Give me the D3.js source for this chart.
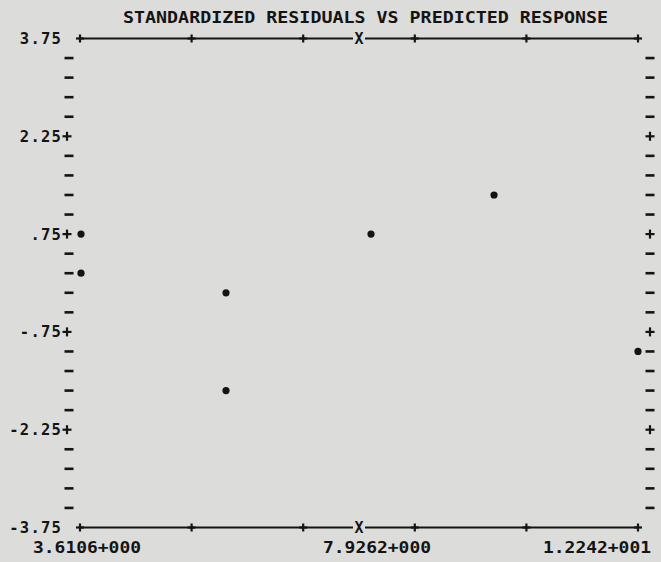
<!DOCTYPE html>
<html>
<head>
<meta charset="utf-8">
<script src="https://cdn.jsdelivr.net/npm/d3@7"></script>
<style>
  html, body { margin: 0; padding: 0; background: #dcdcda; }
  svg { display: block; }
  text { font-family: "DejaVu Sans Mono", "Liberation Mono", monospace; font-weight: bold; fill: #141414; }
</style>
</head>
<body>
<script>
// Predicted response (x) and standardized residual (y) for each observation
const predicted = [3.6106, 3.6106, 5.869, 5.869, 8.112, 10.015, 12.242];
const residuals = [0.75, 0.15, -0.15, -1.65, 0.75, 1.35, -1.05];

// Axis labels as printed by the plotting routine
const yTickValues = [3.75, 2.25, 0.75, -0.75, -2.25, -3.75];
const yTickLabels = ["3.75", "2.25", ".75", "-.75", "-2.25", "-3.75"];
const xTickValues = [3.6106, 7.9262, 12.242];
const xTickLabels = ["3.6106+000", "7.9262+000", "1.2242+001"];
const titleText = "STANDARDIZED RESIDUALS VS PREDICTED RESPONSE";

const W = 661, H = 562;
const ink = "#141414";
const paper = "#dcdcda";

const svg = d3.select("body").append("svg")
  .attr("width", W).attr("height", H);

svg.append("rect").attr("width", W).attr("height", H).attr("fill", paper);

const x = d3.scaleLinear().domain([3.6106, 12.242]).range([80, 638]);
const y = d3.scaleLinear().domain([-3.75, 3.75]).range([527.5, 38.5]);

// Printer rows: 25 steps of 0.3 between the limits
const rowValues = d3.range(26).map(k => 3.75 - 0.3 * k);
const labelled = v => yTickValues.some(t => Math.abs(t - v) < 1e-6);

const leftCol = 69, rightCol = 650;

function dash(g, cx, cy) {
  g.append("line")
    .attr("x1", cx - 4.5).attr("x2", cx + 4.5)
    .attr("y1", cy).attr("y2", cy)
    .attr("stroke", ink).attr("stroke-width", 2.6);
}
function plus(g, cx, cy, s = 4.5) {
  g.append("line")
    .attr("x1", cx - s).attr("x2", cx + s)
    .attr("y1", cy).attr("y2", cy)
    .attr("stroke", ink).attr("stroke-width", 2.2);
  g.append("line")
    .attr("x1", cx).attr("x2", cx)
    .attr("y1", cy - s).attr("y2", cy + s)
    .attr("stroke", ink).attr("stroke-width", 2.2);
}

const frame = svg.append("g");

// Title
svg.append("text")
  .attr("x", 123).attr("y", 23)
  .attr("font-size", 16.5)
  .attr("textLength", 485).attr("lengthAdjust", "spacingAndGlyphs")
  .text(titleText);

// Top and bottom axis lines with tick crosses and centre X
[y(3.75), y(-3.75)].forEach(yy => {
  frame.append("line")
    .attr("x1", x(3.6106)).attr("x2", x(12.242))
    .attr("y1", yy).attr("y2", yy)
    .attr("stroke", ink).attr("stroke-width", 1.9);
  const ticks = d3.range(6).map(i => 3.6106 + i * (12.242 - 3.6106) / 5);
  ticks.forEach(t => plus(frame, x(t), yy, 4));
  const mid = (3.6106 + 12.242) / 2;
  frame.append("rect")
    .attr("x", x(mid) - 6).attr("y", yy - 3).attr("width", 12).attr("height", 6)
    .attr("fill", paper);
  frame.append("text")
    .attr("x", x(mid)).attr("y", yy + 5.5)
    .attr("text-anchor", "middle")
    .attr("font-size", 15)
    .text("X");
});

// Side columns: dashes on every row, crosses on labelled rows
rowValues.forEach((v, k) => {
  if (k === 0 || k === 25) return;
  const yy = y(v);
  if (labelled(v)) {
    plus(frame, rightCol, yy);
    plus(frame, 67, yy);
  } else {
    dash(frame, leftCol, yy);
    dash(frame, rightCol, yy);
  }
});

// Y labels
yTickValues.forEach((v, i) => {
  svg.append("text")
    .attr("x", 62).attr("y", y(v) + 5.5)
    .attr("text-anchor", "end")
    .attr("font-size", 15.5)
    .attr("letter-spacing", 1.2)
    .text(yTickLabels[i]);
});

// X labels under the bottom axis
const xLabelOffsets = [-47, -36, -95];
xTickValues.forEach((v, i) => {
  svg.append("text")
    .attr("x", x(v) + xLabelOffsets[i]).attr("y", 553)
    .attr("font-size", 15)
    .attr("textLength", 108).attr("lengthAdjust", "spacingAndGlyphs")
    .text(xTickLabels[i]);
});

// Residual points
svg.append("g").selectAll("circle")
  .data(predicted.map((p, i) => [p, residuals[i]]))
  .join("circle")
  .attr("cx", d => x(d[0]) + (d[0] === 3.6106 ? 1 : 0))
  .attr("cy", d => y(d[1]))
  .attr("r", 3.6)
  .attr("fill", ink);
</script>
</body>
</html>
